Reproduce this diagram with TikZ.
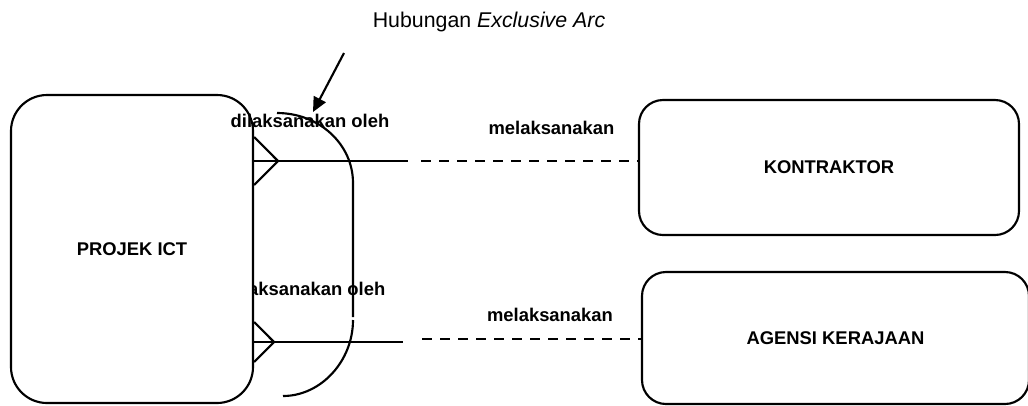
\documentclass[tikz,border=0pt]{standalone}
\usepackage{fontspec}
\setmainfont{Liberation Sans}
\usetikzlibrary{arrows.meta,positioning}

\begin{document}
\begin{tikzpicture}[
  x=0.75pt, y=-0.75pt,
  >={Triangle[length=11pt,width=10pt]},
  line width=1.6pt,
  entity/.style={draw, fill=white, rounded corners=18pt, inner sep=0pt,
                 font=\fontsize{13.8}{16}\selectfont\bfseries},
  rel/.style={inner sep=0pt, anchor=base, font=\fontsize{13.8}{16}\selectfont\bfseries},
  link/.style={dash pattern=on 7.5pt off 6pt}
]
  \useasboundingbox (0,0) rectangle (1028,405);
  % lower role sits partly under the entity box
  \node[rel] (dil2) at (306,295) {dilaksanakan oleh};
  \node[entity, minimum width=181.5pt, minimum height=231pt, rounded corners=27pt] (projek) at (132,249) {PROJEK ICT};
  \node[entity, minimum width=285pt, minimum height=101.25pt] (kontraktor) at (829,167.5) {KONTRAKTOR};
  \node[entity, minimum width=290.25pt, minimum height=99pt] (agensi) at (835.5,338) {AGENSI KERAJAAN};
  \node[rel] (dil1) at (310,127) {dilaksanakan oleh};
  \node[rel] (mel1) at (551.5,134) {melaksanakan};
  \node[rel] (mel2) at (550,321) {melaksanakan};
  \node[rel, font=\fontsize{16}{19}\selectfont] (judul) at (489,27) {Hubungan \textit{Exclusive Arc}};

  % crow's feet
  \draw (projek.east |- 0,137) -- (278,161) -- (projek.east |- 0,185);
  \draw (projek.east |- 0,322) -- (274,342) -- (projek.east |- 0,362);

  % relationship lines
  \coordinate (ujungA) at (408,161);
  \coordinate (putusA) at (421,161);
  \coordinate (ujungB) at (403,342);
  \coordinate (putusB) at (422,339);
  \draw (projek.east |- ujungA) -- (ujungA);
  \draw[link] (putusA) -- (putusA -| kontraktor.west);
  \draw (projek.east |- ujungB) -- (ujungB);
  \draw[link] (putusB) -- (putusB -| agensi.west);

  % exclusive arc
  \draw (277,113) .. controls (319,113) and (353,144) .. (353,183) -- (353,317);
  \draw (353,320) .. controls (353,361) and (321,396) .. (283,396);

  \coordinate (pangkal) at (344,53);
  \coordinate (hujung) at (313,112);
  \draw[->] (pangkal) -- (hujung);
\end{tikzpicture}
\end{document}
